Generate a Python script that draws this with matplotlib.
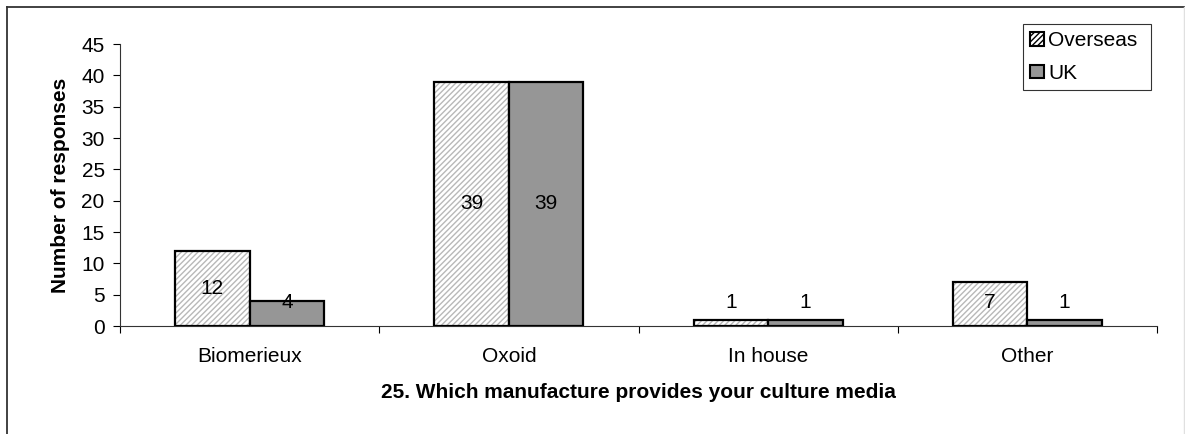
import matplotlib
matplotlib.use("Agg")
import matplotlib.pyplot as plt
from matplotlib.patches import Patch
from matplotlib.lines import Line2D
import numpy as np

categories = ["Biomerieux", "Oxoid", "In house", "Other"]
overseas = [12, 39, 1, 7]
uk = [4, 39, 1, 1]
series_names = ["Overseas", "UK"]
yticks = [0, 5, 10, 15, 20, 25, 30, 35, 40, 45]

plt.rcParams['font.family'] = ['Liberation Sans', 'DejaVu Sans']
plt.rcParams['hatch.linewidth'] = 1.0

FS = 15
W, H = 1185, 434
fig = plt.figure(figsize=(W / 100, H / 100), dpi=100)
ax = fig.add_axes([120 / W, 1 - 326 / H, (1157 - 120) / W, (326 - 44) / H])

x = np.arange(len(categories))
bw = 0.2875

ax.bar(x - bw / 2, overseas, bw, color="white", edgecolor="#b8b8b8", hatch="//////", linewidth=0, zorder=2)
ax.bar(x - bw / 2, overseas, bw, fill=False, edgecolor="black", linewidth=1.6, zorder=3)
ax.bar(x + bw / 2, uk, bw, color="#969696", edgecolor="black", linewidth=1.6, zorder=3)

for xi, v in zip(x - bw / 2, overseas):
    ax.text(xi, max(v / 2, 3.8), str(v), ha="center", va="center", fontsize=FS, zorder=4)
for xi, v in zip(x + bw / 2, uk):
    ax.text(xi, max(v / 2, 3.8), str(v), ha="center", va="center", fontsize=FS, zorder=4)

ax.set_xlim(-0.5, len(categories) - 0.5)
ax.set_ylim(0, 45)
ax.set_yticks(yticks)
ax.set_xticks(x)
ax.set_xticklabels(categories, fontsize=FS)
ax.set_xticks(np.arange(len(categories) + 1) - 0.5, minor=True)
ax.tick_params(axis="x", which="major", length=0, pad=15)
ax.tick_params(axis="x", which="minor", length=5, width=0.8, direction="out")
ax.tick_params(axis="y", length=5, width=0.8, labelsize=FS, pad=6)
for s in ["top", "right"]:
    ax.spines[s].set_visible(False)
for s in ["left", "bottom"]:
    ax.spines[s].set_linewidth(0.8)
    ax.spines[s].set_color("#333333")

ax.set_ylabel("Number of responses", fontsize=FS, fontweight="bold", labelpad=8)
ax.set_xlabel("25. Which manufacture provides your culture media", fontsize=FS, fontweight="bold", labelpad=12)

handles = [
    Patch(facecolor="white", edgecolor="black", hatch="//////", linewidth=1.5, label=series_names[0]),
    Patch(facecolor="#969696", edgecolor="black", linewidth=1.5, label=series_names[1]),
]
leg = fig.legend(handles=handles, loc="upper left",
                 bbox_to_anchor=(1023 / W, 1 - 92 / H, (1151 - 1023) / W, (92 - 24) / H),
                 mode="expand", frameon=True, fancybox=False, fontsize=FS,
                 handlelength=0.65, handleheight=0.65, handletextpad=0.2,
                 borderpad=0.35, labelspacing=0.65, borderaxespad=0)
leg.get_frame().set_edgecolor("black")
leg.get_frame().set_linewidth(0.8)

# outer chart border
fig.add_artist(Line2D([6.5 / W, 6.5 / W], [0, 1 - 6.5 / H], transform=fig.transFigure, color="#333333", linewidth=1.3))
fig.add_artist(Line2D([6.5 / W, 1], [1 - 6.5 / H, 1 - 6.5 / H], transform=fig.transFigure, color="#333333", linewidth=1.3))
fig.add_artist(Line2D([1184 / W, 1184 / W], [0, 1 - 6.5 / H], transform=fig.transFigure, color="#e0e0e0", linewidth=1.0))

fig.savefig("out.png", dpi=100)
